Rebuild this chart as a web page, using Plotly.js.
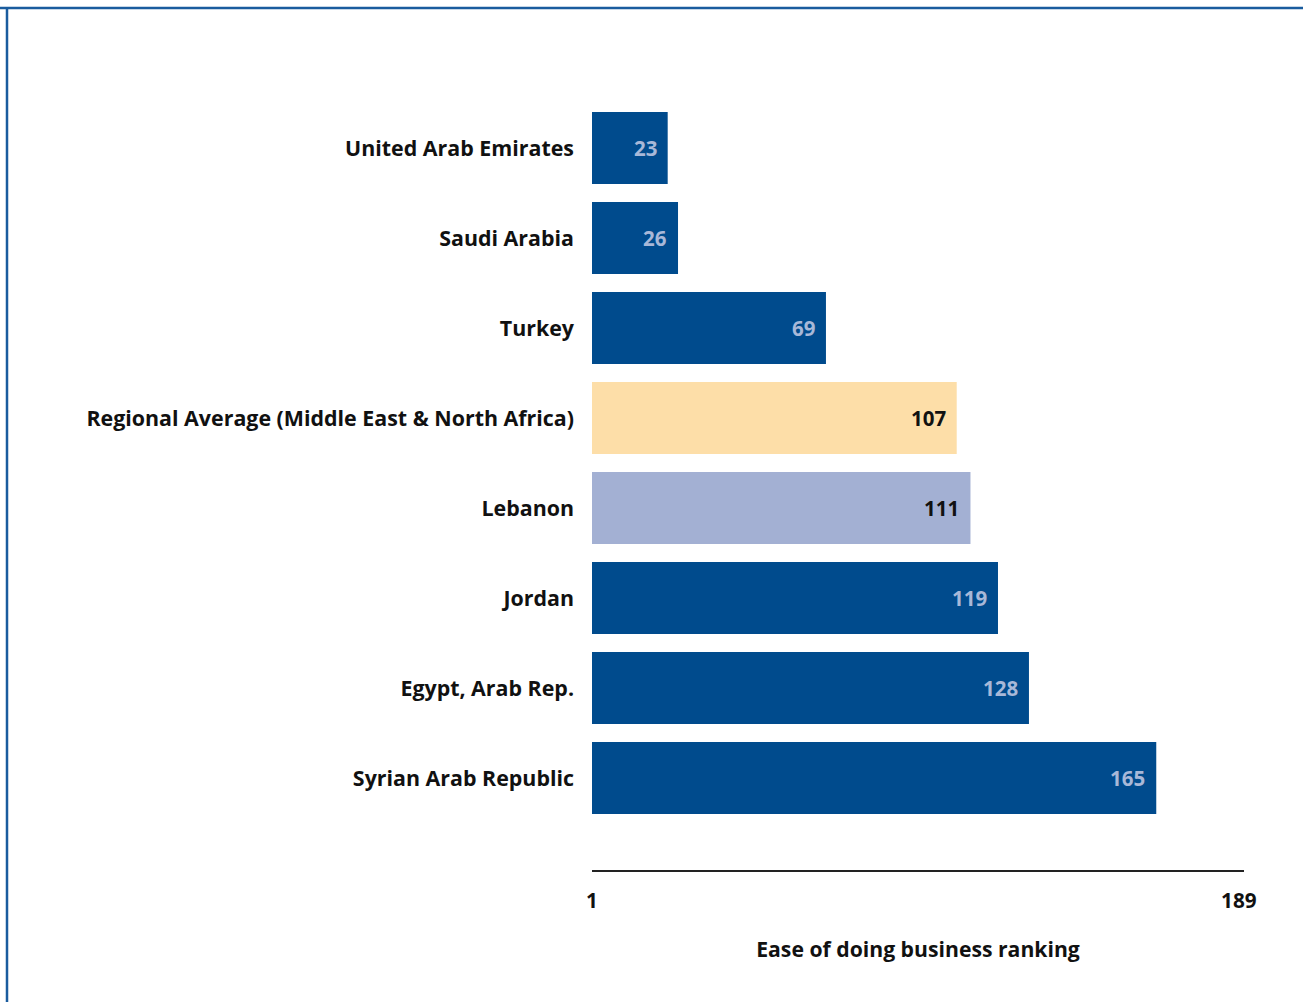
<!DOCTYPE html>
<html><head><meta charset="utf-8">
<script src="https://cdn.plot.ly/plotly-3.0.1.min.js"></script>
<style>html,body{margin:0;padding:0;background:#fff;}#chart{width:1303px;height:1002px;}</style>
</head><body><div id="chart"></div>
<script>
const countries = ["United Arab Emirates","Saudi Arabia","Turkey","Regional Average (Middle East & North Africa)","Lebanon","Jordan","Egypt, Arab Rep.","Syrian Arab Republic"];
const rankings = [23, 26, 69, 107, 111, 119, 128, 165];
const barColors = ["#004b8d","#004b8d","#004b8d","#fddea8","#a3b0d3","#004b8d","#004b8d","#004b8d"];
const labelColors = ["#a8b8d8","#a8b8d8","#a8b8d8","#111111","#111111","#a8b8d8","#a8b8d8","#a8b8d8"];
const tickVals = [1, 189];
const tickText = ["1", "189"];
const FONT = "'Open Sans', 'Noto Sans', sans-serif";

const trace = {
  type: "bar", orientation: "h",
  y: countries,
  base: 1,
  x: rankings.map(v => v - 1),
  marker: {color: barColors, line: {width: 0}},
  hoverinfo: "skip",
  width: 0.8
};

const annotations = rankings.map((v, i) => ({
  x: v, y: countries[i], xref: "x", yref: "y",
  text: String(v), showarrow: false, xanchor: "right", xshift: -9,
  font: {family: FONT, size: 20.5, weight: 700, color: labelColors[i]}
}));

const layout = {
  width: 1303, height: 1002,
  margin: {l: 592, r: 59, t: 103, b: 132},
  paper_bgcolor: "#fff", plot_bgcolor: "#fff",
  showlegend: false,
  xaxis: {
    range: [1, 190.5], tickvals: tickVals, ticktext: tickText,
    showgrid: false, zeroline: false, showline: true, linecolor: "#222", linewidth: 2,
    ticks: "", ticklabelstandoff: 11,
    tickfont: {family: FONT, size: 20.7, weight: 700, color: "#111"},
    title: {text: "Ease of doing business ranking", standoff: 29, font: {family: FONT, size: 21.2, weight: 700, color: "#111"}},
    fixedrange: true
  },
  yaxis: {
    type: "category", categoryorder: "array", categoryarray: countries,
    range: [8.022, -0.5],
    showgrid: false, zeroline: false, showline: false, ticks: "", ticklabelstandoff: 17,
    tickfont: {family: FONT, size: 21.4, weight: 700, color: "#111"},
    fixedrange: true
  },
  annotations: annotations,
  shapes: [
    {type: "line", xref: "paper", yref: "paper", x0: -592/652, x1: 1.2, y0: 1 + 95/767, y1: 1 + 95/767, line: {color: "#1a5c9e", width: 2.5}},
    {type: "line", xref: "paper", yref: "paper", x0: -585/652, x1: -585/652, y0: 1 + 95/767, y1: -0.3, line: {color: "#1a5c9e", width: 2.5}}
  ]
};

Plotly.newPlot("chart", [trace], layout, {displayModeBar: false, staticPlot: true});
</script>
</body></html>
